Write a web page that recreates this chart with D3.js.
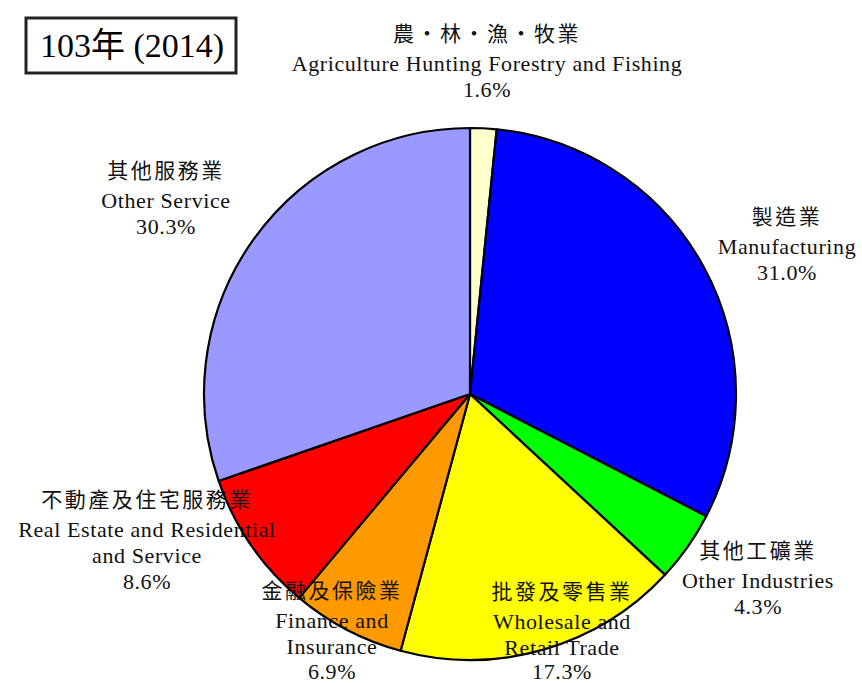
<!DOCTYPE html>
<html><head><meta charset="utf-8">
<script src="https://cdn.jsdelivr.net/npm/d3@7"></script>
<style>
body{margin:0;background:#fff;}
svg{display:block;}
</style></head>
<body>
<svg id="chart" width="862" height="683"></svg>
<script>
const titleText = "103年 (2014)";
const categoriesZh = ["農‧林‧漁‧牧業","製造業","其他工礦業","批發及零售業","金融及保險業","不動產及住宅服務業","其他服務業"];
const categoriesEn = [["Agriculture Hunting Forestry and Fishing"],["Manufacturing"],["Other Industries"],["Wholesale and","Retail Trade"],["Finance and","Insurance"],["Real Estate and Residential","and Service"],["Other Service"]];
const values = [1.6, 31.0, 4.3, 17.3, 6.9, 8.6, 30.3];
const colors = ["#FFFFCC","#0000FF","#00FF00","#FFFF00","#FF9900","#FF0000","#9999FF"];

// layout: label anchor (center x, first-line baseline y)
const labelPos = [[487,41],[787,224],[758,558],[562,599],[332,598],[147,507],[166,178]];

const svg = d3.select("#chart");
const cx = 470, cy = 394, r = 266;
const serif = "'Liberation Serif','Times New Roman',serif";
const cjk = "'Noto Sans CJK TC','Noto Sans CJK SC',sans-serif";

// title box
svg.append("rect").attr("x",26).attr("y",18).attr("width",210).attr("height",55)
  .attr("fill","#fff").attr("stroke","#222").attr("stroke-width",3);
svg.append("text").attr("x",132).attr("y",57).attr("text-anchor","middle")
  .attr("font-family",serif + ",'Noto Sans CJK TC'").attr("font-size",34).attr("fill","#000").text(titleText);

const pie = d3.pie().sort(null).value(d=>d).startAngle(0).endAngle(2*Math.PI);
const arc = d3.arc().innerRadius(0).outerRadius(r);
const g = svg.append("g").attr("transform",`translate(${cx},${cy})`);
g.selectAll("path").data(pie(values)).join("path")
  .attr("d",arc).attr("fill",(d,i)=>colors[i])
  .attr("stroke","#000").attr("stroke-width",2.2).attr("stroke-linejoin","round");

const lab = svg.append("g");
categoriesZh.forEach((zh,i)=>{
  const [x,y] = labelPos[i];
  const t = lab.append("g");
  t.append("text").attr("x",x).attr("y",y).attr("text-anchor","middle")
    .attr("font-family",cjk).attr("font-size",21).attr("letter-spacing",2.5).attr("fill","#111").text(zh);
  let yy = y + 30;
  categoriesEn[i].forEach((line,j)=>{
    t.append("text").attr("x",x).attr("y",yy).attr("text-anchor","middle")
      .attr("font-family",serif).attr("font-size",22).attr("letter-spacing",0.6).attr("fill","#111").text(line);
    yy += 26;
  });
  t.append("text").attr("x",x).attr("y",Math.min(yy,679)).attr("text-anchor","middle")
    .attr("font-family",serif).attr("font-size",22).attr("letter-spacing",0.6).attr("fill","#111").text(d3.format(".1f")(values[i])+"%");
});
</script>
</body></html>
